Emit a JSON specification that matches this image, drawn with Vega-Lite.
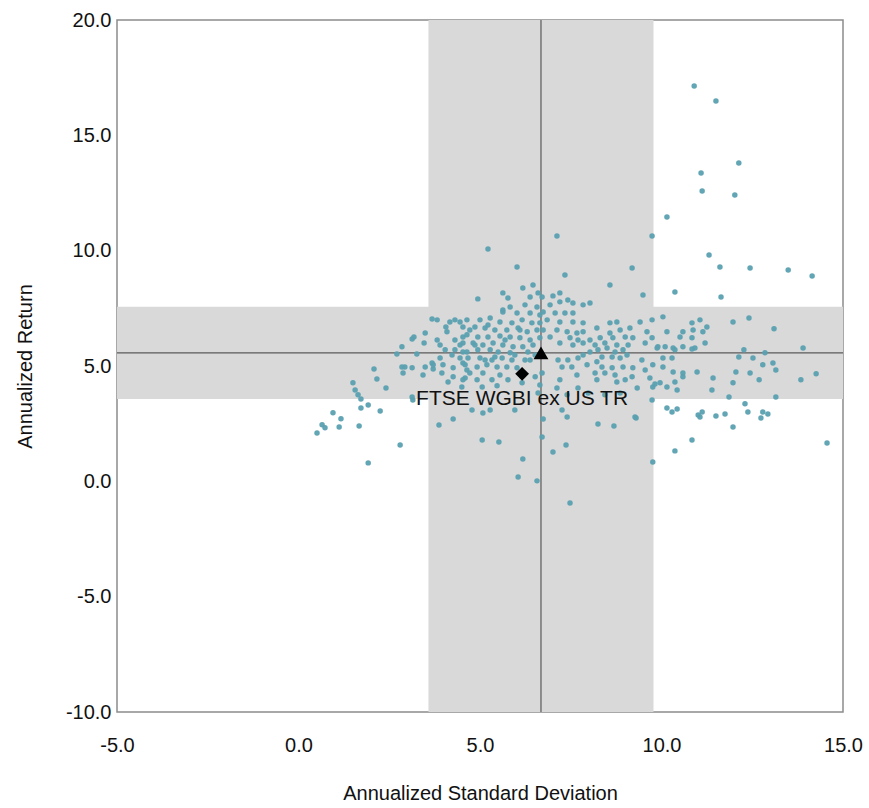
{
  "$schema": "https://vega.github.io/schema/vega-lite/v6.json",
  "width": 726,
  "height": 692,
  "padding": {"left": 15, "top": 10, "right": 5, "bottom": 5},
  "background": "white",
  "config": {
    "view": {"stroke": "#8c8c8c", "strokeWidth": 1.5},
    "font": "Liberation Sans"
  },
  "datasets": {
    "bands": [
      {"x": 3.58, "x2": 9.78, "y": -10, "y2": 20},
      {"x": -5, "x2": 15, "y": 3.57, "y2": 7.57}
    ],
    "lines": [
      {"x": 6.68, "x2": 6.68, "y": -10, "y2": 20},
      {"x": -5, "x2": 15, "y": 5.57, "y2": 5.57}
    ],
    "benchmark": [{"x": 6.68, "y": 5.57, "name": "Median"}],
    "index": [{"x": 6.16, "y": 4.66, "label": "FTSE WGBI ex US TR"}],
    "funds": [
      {"x":0.51,"y":2.10},{"x":0.65,"y":2.45},{"x":0.73,"y":2.32},{"x":0.95,"y":2.97},{"x":1.12,"y":2.36},{"x":1.17,"y":2.71},
      {"x":1.50,"y":4.27},{"x":1.56,"y":3.96},{"x":1.64,"y":3.75},{"x":1.72,"y":3.57},{"x":1.72,"y":3.18},{"x":1.92,"y":3.31},
      {"x":2.25,"y":3.05},{"x":1.67,"y":2.40},{"x":1.92,"y":0.80},{"x":2.80,"y":1.58},{"x":2.08,"y":4.87},{"x":2.16,"y":4.44},
      {"x":2.41,"y":4.05},{"x":2.71,"y":5.52},{"x":2.85,"y":5.83},{"x":2.88,"y":4.70},{"x":2.85,"y":4.96},{"x":2.93,"y":4.96},
      {"x":3.13,"y":4.92},{"x":3.13,"y":6.17},{"x":3.18,"y":6.26},{"x":3.26,"y":5.52},{"x":3.46,"y":6.00},{"x":3.49,"y":6.43},
      {"x":3.49,"y":4.96},{"x":3.15,"y":3.53},{"x":3.13,"y":3.66},{"x":3.43,"y":4.61},
      {"x":3.68,"y":7.04},{"x":4.17,"y":6.91},{"x":4.31,"y":7.00},{"x":4.45,"y":6.91},{"x":4.06,"y":6.69},{"x":4.53,"y":6.69},
      {"x":4.09,"y":6.48},{"x":3.82,"y":6.13},{"x":4.31,"y":6.13},{"x":4.53,"y":6.26},{"x":3.90,"y":5.91},{"x":4.45,"y":5.91},
      {"x":4.53,"y":5.61},{"x":4.23,"y":5.48},{"x":3.90,"y":5.35},{"x":4.45,"y":5.35},{"x":4.53,"y":5.13},{"x":3.68,"y":5.13},
      {"x":3.98,"y":5.05},{"x":4.26,"y":4.92},{"x":4.64,"y":4.83},{"x":3.95,"y":4.70},{"x":4.26,"y":4.53},{"x":4.59,"y":4.48},
      {"x":4.12,"y":4.31},{"x":3.71,"y":4.87},{"x":3.71,"y":5.05},{"x":3.82,"y":7.00},
      {"x":4.94,"y":7.91},{"x":5.63,"y":8.17},{"x":5.77,"y":7.95},{"x":6.18,"y":8.38},{"x":6.46,"y":8.51},{"x":6.38,"y":7.99},
      {"x":6.60,"y":8.17},{"x":5.83,"y":7.56},{"x":6.24,"y":7.65},{"x":6.57,"y":7.56},{"x":5.63,"y":7.34},{"x":6.02,"y":7.30},
      {"x":6.38,"y":7.30},{"x":6.65,"y":7.21},{"x":4.64,"y":7.00},{"x":5.00,"y":7.00},{"x":5.28,"y":7.08},{"x":5.55,"y":6.91},
      {"x":5.88,"y":6.87},{"x":6.16,"y":7.00},{"x":6.43,"y":6.87},{"x":6.65,"y":6.87},{"x":4.86,"y":6.69},{"x":5.14,"y":6.65},
      {"x":5.41,"y":6.56},{"x":5.74,"y":6.56},{"x":6.05,"y":6.65},{"x":6.30,"y":6.48},{"x":6.57,"y":6.56},{"x":4.64,"y":6.35},
      {"x":4.94,"y":6.26},{"x":5.22,"y":6.26},{"x":5.55,"y":6.30},{"x":5.83,"y":6.26},{"x":6.10,"y":6.22},{"x":6.38,"y":6.13},
      {"x":6.65,"y":6.22},{"x":4.53,"y":6.00},{"x":4.81,"y":6.00},{"x":5.08,"y":5.91},{"x":5.36,"y":6.00},{"x":5.63,"y":5.91},
      {"x":5.91,"y":5.83},{"x":6.18,"y":5.83},{"x":6.46,"y":5.91},{"x":4.64,"y":5.61},{"x":4.94,"y":5.70},{"x":5.28,"y":5.70},
      {"x":5.50,"y":5.61},{"x":5.83,"y":5.57},{"x":4.67,"y":5.35},{"x":5.00,"y":5.35},{"x":5.33,"y":5.26},{"x":5.61,"y":5.35},
      {"x":5.88,"y":5.26},{"x":6.38,"y":5.26},{"x":4.59,"y":5.05},{"x":4.92,"y":4.96},{"x":5.19,"y":5.05},{"x":5.47,"y":4.96},
      {"x":5.74,"y":4.96},{"x":4.72,"y":4.70},{"x":5.08,"y":4.70},{"x":5.55,"y":4.61},{"x":6.02,"y":4.92},{"x":6.52,"y":4.53},
      {"x":6.65,"y":4.18},{"x":4.53,"y":4.40},{"x":4.92,"y":4.40},{"x":5.33,"y":4.40},{"x":5.77,"y":4.40},{"x":6.16,"y":4.27},
      {"x":6.60,"y":3.83},{"x":5.06,"y":4.09},{"x":5.47,"y":4.14},{"x":4.50,"y":4.09},
      {"x":4.72,"y":6.56},{"x":5.69,"y":6.13},{"x":5.96,"y":5.48},{"x":6.24,"y":5.26},{"x":6.52,"y":5.48},{"x":5.22,"y":6.78},
      {"x":5.41,"y":5.39},{"x":5.14,"y":5.26},{"x":4.31,"y":5.70},{"x":4.04,"y":5.70},{"x":4.86,"y":5.91},{"x":6.10,"y":6.56},
      {"x":6.32,"y":5.61},
      {"x":5.22,"y":10.07},{"x":6.02,"y":9.29},{"x":5.63,"y":7.43},{"x":4.78,"y":3.09},{"x":5.08,"y":2.96},{"x":5.28,"y":3.09},
      {"x":4.26,"y":2.70},{"x":3.87,"y":2.44},{"x":5.06,"y":1.79},{"x":5.52,"y":1.71},{"x":6.18,"y":0.97},{"x":6.05,"y":0.19},
      {"x":6.57,"y":0.02},{"x":5.96,"y":3.09},{"x":6.71,"y":1.92},{"x":6.74,"y":2.70},{"x":7.48,"y":-0.94},
      {"x":7.12,"y":10.64},{"x":9.74,"y":10.64},{"x":9.19,"y":9.25},{"x":9.49,"y":8.08},{"x":7.34,"y":8.95},{"x":8.58,"y":8.51},
      {"x":7.20,"y":8.17},{"x":7.01,"y":8.04},{"x":6.71,"y":7.99},{"x":7.42,"y":7.86},{"x":7.20,"y":7.78},{"x":6.93,"y":7.65},
      {"x":7.56,"y":7.73},{"x":7.84,"y":7.65},{"x":8.03,"y":7.73},{"x":6.74,"y":7.34},{"x":7.07,"y":7.30},{"x":7.34,"y":7.30},
      {"x":7.56,"y":7.30},{"x":6.85,"y":7.00},{"x":7.20,"y":6.91},{"x":7.56,"y":6.91},{"x":7.84,"y":6.87},{"x":8.22,"y":6.65},
      {"x":8.58,"y":6.87},{"x":8.77,"y":6.91},{"x":6.74,"y":6.56},{"x":7.12,"y":6.56},{"x":7.40,"y":6.48},{"x":7.67,"y":6.43},
      {"x":7.84,"y":6.48},{"x":8.58,"y":6.43},{"x":8.86,"y":6.56},{"x":6.93,"y":6.26},{"x":7.48,"y":6.22},{"x":7.70,"y":6.13},
      {"x":8.03,"y":6.13},{"x":8.31,"y":6.22},{"x":8.66,"y":6.22},{"x":9.00,"y":6.26},{"x":7.20,"y":6.00},{"x":7.56,"y":5.91},
      {"x":7.84,"y":6.00},{"x":8.17,"y":5.91},{"x":8.44,"y":6.00},{"x":8.77,"y":5.91},{"x":8.03,"y":5.61},{"x":8.25,"y":5.70},
      {"x":8.50,"y":5.78},{"x":8.72,"y":5.61},{"x":8.94,"y":5.70},{"x":7.84,"y":5.48},{"x":8.36,"y":5.39},{"x":8.64,"y":5.39},
      {"x":7.15,"y":5.26},{"x":7.42,"y":5.26},{"x":7.70,"y":5.35},{"x":8.22,"y":5.18},{"x":8.86,"y":5.35},{"x":7.26,"y":4.96},
      {"x":7.53,"y":4.96},{"x":7.95,"y":5.05},{"x":8.36,"y":4.96},{"x":8.64,"y":4.92},{"x":8.94,"y":4.96},{"x":6.71,"y":4.70},
      {"x":7.67,"y":4.61},{"x":8.17,"y":4.70},{"x":8.44,"y":4.70},{"x":8.72,"y":4.61},{"x":7.20,"y":4.40},{"x":8.22,"y":4.40},
      {"x":8.77,"y":4.31},{"x":9.00,"y":4.40},{"x":7.12,"y":4.05},{"x":7.70,"y":4.05},{"x":7.40,"y":3.75},{"x":7.98,"y":3.83},
      {"x":8.44,"y":3.75},{"x":8.86,"y":3.83},
      {"x":8.25,"y":2.49},{"x":8.69,"y":2.40},{"x":9.30,"y":2.75},{"x":7.37,"y":1.58},{"x":7.01,"y":1.27},{"x":7.40,"y":2.79},
      {"x":7.26,"y":3.09},{"x":9.76,"y":0.84},
      {"x":10.37,"y":8.21},{"x":9.41,"y":6.91},{"x":9.74,"y":7.00},{"x":10.04,"y":7.13},{"x":10.84,"y":6.87},{"x":11.06,"y":7.00},
      {"x":9.13,"y":6.65},{"x":9.60,"y":6.48},{"x":10.15,"y":6.48},{"x":10.59,"y":6.48},{"x":10.87,"y":6.56},{"x":11.14,"y":6.48},
      {"x":9.21,"y":6.22},{"x":9.74,"y":6.22},{"x":10.51,"y":6.26},{"x":10.84,"y":6.22},{"x":9.08,"y":5.91},{"x":9.55,"y":6.00},
      {"x":9.90,"y":5.83},{"x":10.10,"y":5.83},{"x":10.32,"y":5.78},{"x":10.59,"y":5.83},{"x":10.92,"y":5.78},{"x":9.05,"y":5.48},
      {"x":9.46,"y":5.26},{"x":10.04,"y":5.35},{"x":10.29,"y":5.35},{"x":9.21,"y":4.92},{"x":9.55,"y":4.83},{"x":9.76,"y":5.05},
      {"x":10.04,"y":4.96},{"x":10.32,"y":4.74},{"x":10.59,"y":4.70},{"x":10.98,"y":4.74},{"x":9.19,"y":4.53},{"x":9.68,"y":4.48},
      {"x":9.96,"y":4.27},{"x":10.37,"y":4.31},{"x":10.59,"y":4.53},{"x":9.33,"y":4.05},{"x":9.76,"y":4.09},{"x":10.15,"y":4.09},
      {"x":10.43,"y":3.96},{"x":9.74,"y":3.53},{"x":10.15,"y":3.18},{"x":10.43,"y":3.14},{"x":11.12,"y":3.01},{"x":9.27,"y":2.79},
      {"x":11.61,"y":9.29},{"x":12.44,"y":9.25},{"x":13.49,"y":9.16},{"x":14.15,"y":8.90},{"x":11.64,"y":7.99},{"x":11.97,"y":6.91},
      {"x":12.41,"y":7.08},{"x":13.10,"y":6.61},{"x":13.90,"y":5.78},{"x":12.27,"y":5.70},{"x":12.85,"y":5.57},{"x":12.13,"y":5.39},
      {"x":12.52,"y":5.35},{"x":13.07,"y":5.13},{"x":12.79,"y":5.05},{"x":13.15,"y":4.83},{"x":12.44,"y":4.70},{"x":12.69,"y":4.40},
      {"x":12.05,"y":4.74},{"x":11.42,"y":4.48},{"x":11.97,"y":4.27},{"x":11.39,"y":3.96},{"x":11.86,"y":3.66},{"x":13.15,"y":3.66},
      {"x":13.84,"y":4.40},{"x":14.26,"y":4.66},{"x":9.82,"y":4.22},{"x":11.25,"y":6.69},{"x":11.20,"y":6.00},{"x":9.88,"y":5.78},
      {"x":10.84,"y":5.74},{"x":10.37,"y":5.70},
      {"x":10.29,"y":3.01},{"x":11.01,"y":2.88},{"x":11.06,"y":2.79},{"x":11.50,"y":2.83},{"x":11.75,"y":2.92},{"x":12.30,"y":3.36},
      {"x":12.38,"y":3.01},{"x":12.79,"y":3.01},{"x":12.93,"y":2.92},{"x":12.74,"y":2.75},{"x":11.97,"y":2.36},{"x":10.84,"y":1.79},
      {"x":10.37,"y":1.32},{"x":14.56,"y":1.66},
      {"x":10.90,"y":17.14},{"x":11.50,"y":16.49},{"x":12.13,"y":13.80},{"x":11.09,"y":13.37},{"x":11.12,"y":12.59},{"x":12.02,"y":12.41},
      {"x":10.15,"y":11.46},{"x":11.31,"y":9.81}
    ]
  },
  "encoding": {
    "x": {
      "field": "x", "type": "quantitative",
      "scale": {"domain": [-5, 15], "nice": false, "zero": false},
      "axis": {
        "title": "Annualized Standard Deviation", "values": [-5, 0, 5, 10, 15], "format": ".1f",
        "labelExpr": "replace(datum.label, '−', '-')",
        "grid": false, "ticks": false, "domain": false, "labelFlush": false, "labelOverlap": false,
        "labelFontSize": 20, "titleFontSize": 20, "titleFontWeight": "normal",
        "labelPadding": 23, "titlePadding": 28, "labelColor": "#111", "titleColor": "#111"
      }
    },
    "y": {
      "field": "y", "type": "quantitative",
      "scale": {"domain": [-10, 20], "nice": false, "zero": false},
      "axis": {
        "title": "Annualized Return", "values": [-10, -5, 0, 5, 10, 15, 20], "format": ".1f",
        "labelExpr": "replace(datum.label, '−', '-')",
        "grid": false, "ticks": false, "domain": false, "labelFlush": false, "labelOverlap": false,
        "labelFontSize": 20, "titleFontSize": 20, "titleFontWeight": "normal",
        "labelPadding": 6, "titlePadding": 30, "labelColor": "#111", "titleColor": "#111"
      }
    }
  },
  "layer": [
    {
      "data": {"name": "bands"},
      "mark": {"type": "rect", "color": "#d9d9d9"},
      "encoding": {"x2": {"field": "x2"}, "y2": {"field": "y2"}}
    },
    {
      "data": {"name": "lines"},
      "mark": {"type": "rule", "color": "#5a5a5a", "strokeWidth": 1.2},
      "encoding": {"x2": {"field": "x2"}, "y2": {"field": "y2"}}
    },
    {
      "data": {"name": "funds"},
      "mark": {"type": "circle", "size": 30, "color": "#5aa0b0", "opacity": 0.95}
    },
    {
      "data": {"name": "benchmark"},
      "mark": {"type": "point", "shape": "triangle-up", "filled": true, "size": 220, "color": "black", "opacity": 1}
    },
    {
      "data": {"name": "index"},
      "mark": {"type": "point", "shape": "diamond", "filled": true, "size": 190, "color": "black", "opacity": 1}
    },
    {
      "data": {"name": "index"},
      "mark": {"type": "text", "fontSize": 21, "color": "#111", "align": "center", "baseline": "middle", "dy": 25},
      "encoding": {"text": {"field": "label"}}
    }
  ]
}
